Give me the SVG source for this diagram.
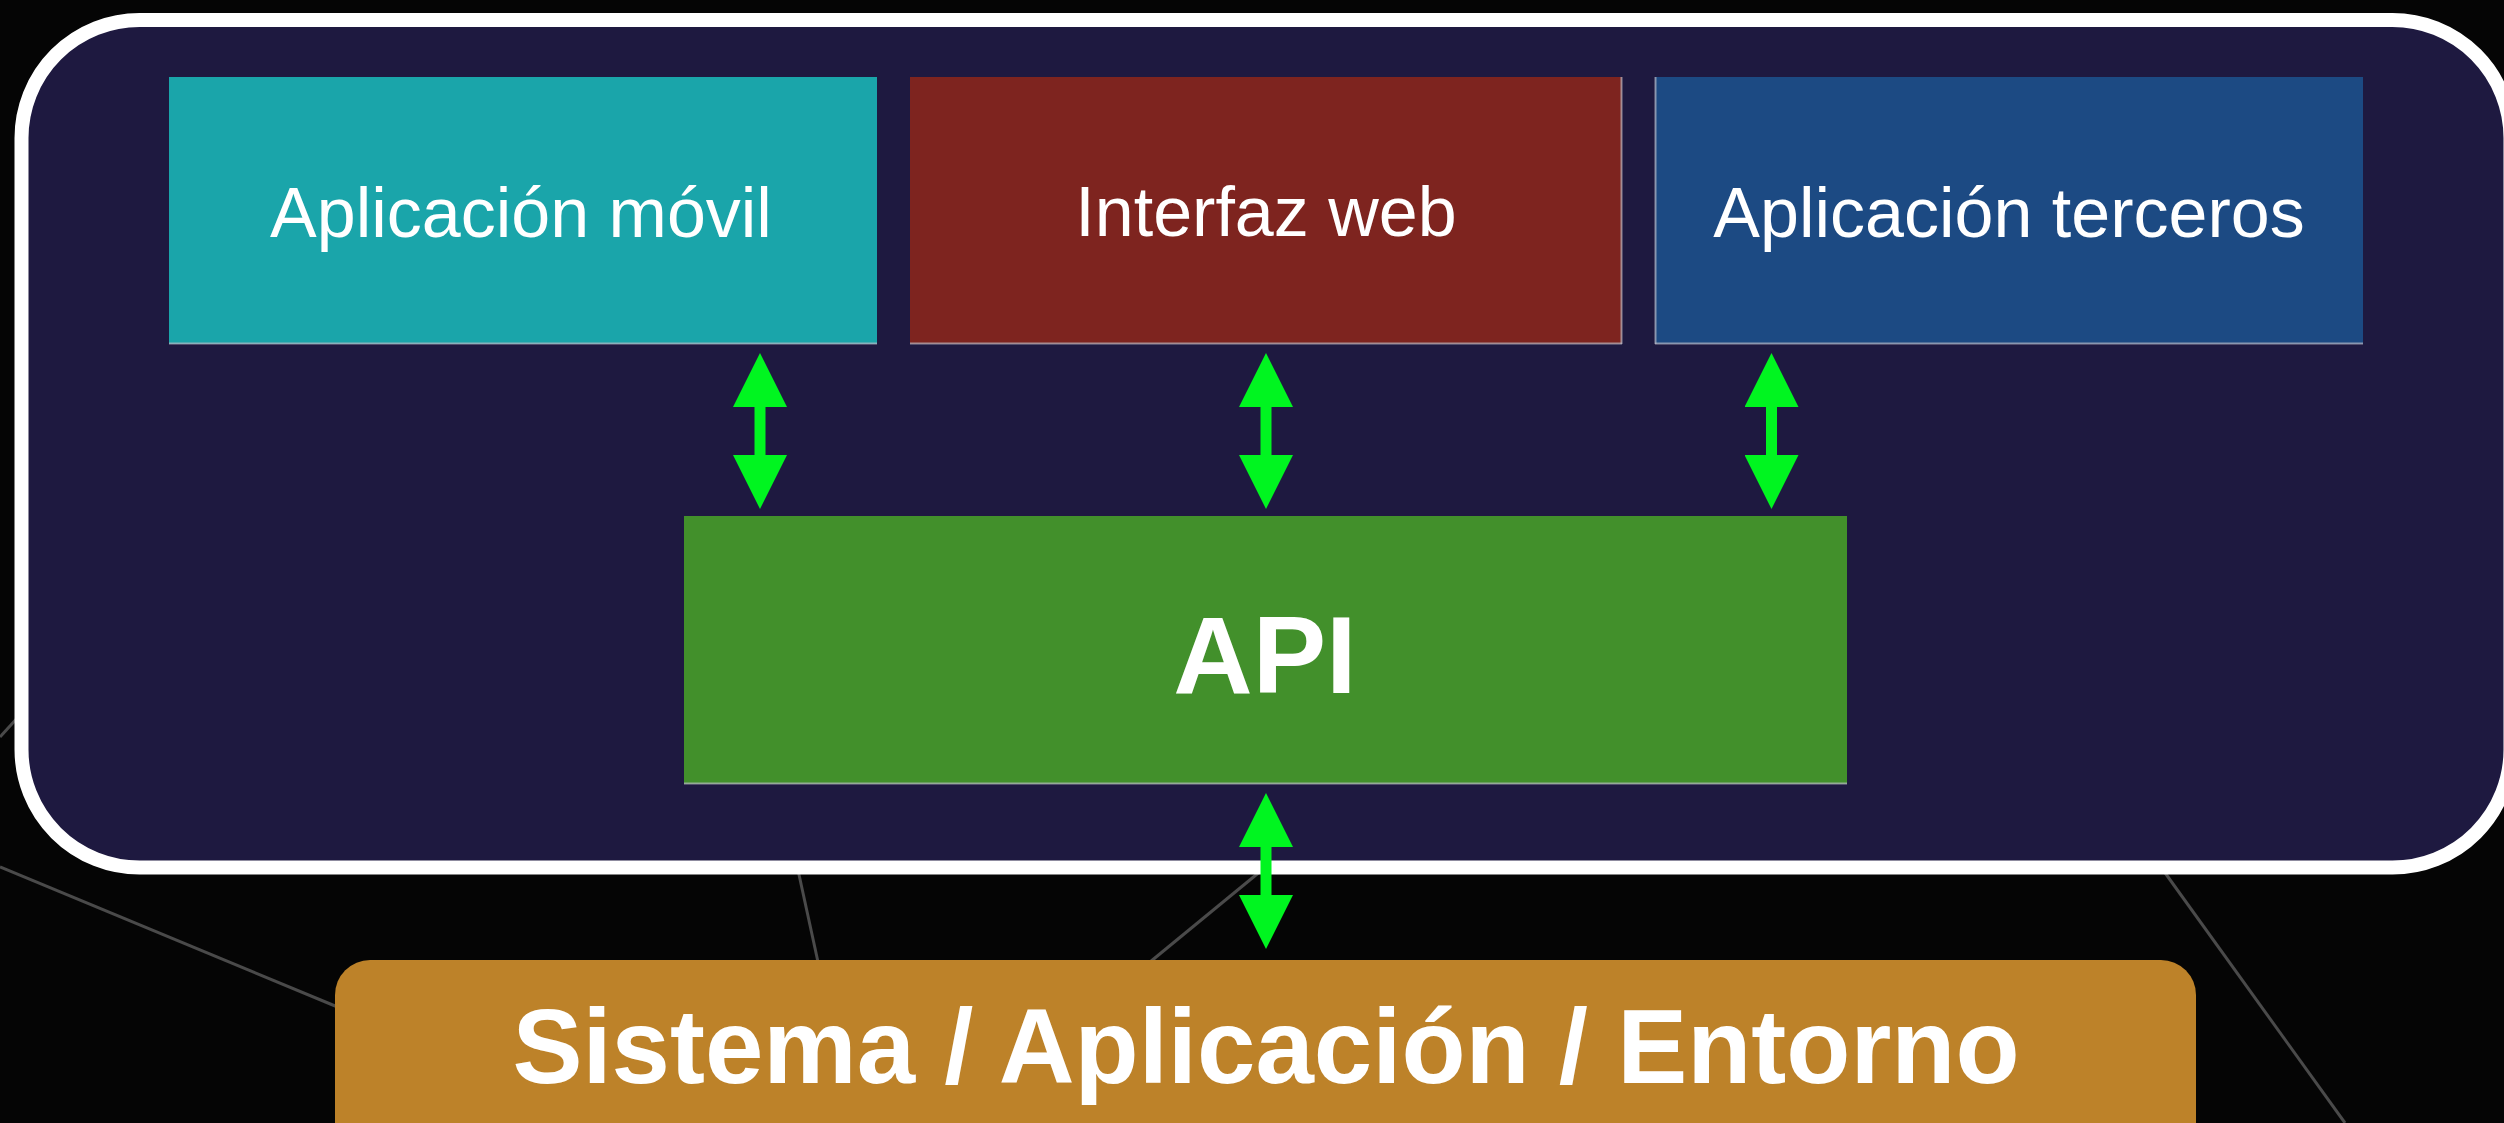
<svg xmlns="http://www.w3.org/2000/svg" width="2504" height="1123" viewBox="0 0 2504 1123">
  <defs>
    <style>
      .light { font-family: "Liberation Sans", Arial, Helvetica, sans-serif; font-size: 70px; fill: #ffffff; text-anchor: middle; }
      .bold { font-family: "Liberation Sans", Arial, Helvetica, sans-serif; font-weight: bold; fill: #ffffff; text-anchor: middle; }
      .bgline { stroke: #4a4a4a; stroke-width: 3; fill: none; }
      .edge { stroke: #b8b8c4; stroke-width: 2; opacity: 0.7; }
      .conn { stroke: #00f520; stroke-width: 11; fill: none; marker-start: url(#head); marker-end: url(#head); }
    </style>
    <marker id="head" viewBox="0 -27 54 54" refX="0" refY="0" markerWidth="54" markerHeight="54" markerUnits="userSpaceOnUse" orient="auto-start-reverse">
      <path d="M0,-27 L54,0 L0,27 Z" fill="#00f520"/>
    </marker>
  </defs>

  <!-- background -->
  <rect x="0" y="0" width="2504" height="1123" fill="#050505"/>
  <g id="background-lines">
    <line class="bgline" x1="0" y1="867" x2="340" y2="1008"/>
    <line class="bgline" x1="0" y1="737" x2="20" y2="715"/>
    <line class="bgline" x1="798" y1="870" x2="818" y2="962"/>
    <line class="bgline" x1="1262" y1="870" x2="1150" y2="962"/>
    <line class="bgline" x1="2163" y1="870" x2="2345" y2="1123"/>
  </g>

  <!-- outer panel -->
  <g id="panel">
    <rect x="21.5" y="20" width="2489" height="847.5" rx="118" ry="118" fill="#1e1940" stroke="#ffffff" stroke-width="14"/>
  </g>

  <g id="node-movil">
    <rect x="169" y="77" width="708" height="267" fill="#1aa5aa"/>
    <line class="edge" x1="169" y1="343.5" x2="877" y2="343.5"/>
    <text class="light" x="521" y="237">Aplicación móvil</text>
  </g>

  <g id="node-web">
    <rect x="910" y="77" width="712" height="267" fill="#7e241f"/>
    <line class="edge" x1="910" y1="343.5" x2="1622" y2="343.5"/>
    <line class="edge" x1="1621.5" y1="77" x2="1621.5" y2="344"/>
    <text class="light" x="1266" y="236">Interfaz web</text>
  </g>

  <g id="node-terceros">
    <rect x="1655" y="77" width="708" height="267" fill="#1c4a83"/>
    <line class="edge" x1="1655" y1="343.5" x2="2363" y2="343.5"/>
    <line class="edge" x1="1655.5" y1="77" x2="1655.5" y2="344"/>
    <text class="light" x="2009" y="237">Aplicación terceros</text>
  </g>

  <g id="node-api">
    <rect x="684" y="516" width="1163" height="268" fill="#42902b"/>
    <line class="edge" x1="684" y1="783.5" x2="1847" y2="783.5"/>
    <text class="bold" x="1265" y="693" font-size="110">API</text>
  </g>

  <g id="node-sistema">
    <rect x="335" y="960" width="1861" height="220" rx="35" ry="35" fill="#bd8229"/>
    <text class="bold" x="1266" y="1083" font-size="105">Sistema / Aplicación / Entorno</text>
  </g>

  <g id="connectors">
    <line class="conn" x1="760" y1="407" x2="760" y2="455"/>
    <line class="conn" x1="1266" y1="407" x2="1266" y2="455"/>
    <line class="conn" x1="1771.5" y1="407" x2="1771.5" y2="455"/>
    <line class="conn" x1="1266" y1="847" x2="1266" y2="895"/>
  </g>
</svg>
